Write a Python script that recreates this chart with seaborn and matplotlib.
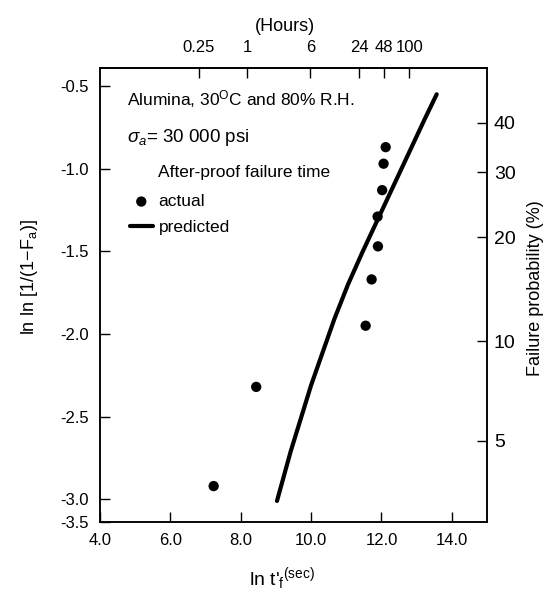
import numpy as np
import matplotlib
matplotlib.use("Agg")
import matplotlib.pyplot as plt
import seaborn as sns

# ---- data ----
actual_x = [7.23, 8.44, 11.55, 11.72, 11.90, 11.89, 12.02, 12.06, 12.12]
actual_y = [-2.92, -2.32, -1.95, -1.67, -1.47, -1.29, -1.13, -0.97, -0.87]
pred_x = [9.03, 9.42, 10.00, 10.66, 11.05, 11.47, 11.91, 12.35, 12.79, 13.23, 13.57]
pred_y = [-3.01, -2.71, -2.31, -1.91, -1.70, -1.50, -1.30, -1.10, -0.90, -0.70, -0.55]

x_ticks = [4.0, 6.0, 8.0, 10.0, 12.0, 14.0]
x_ticklabels = ["4.0", "6.0", "8.0", "10.0", "12.0", "14.0"]
y_ticks = [-0.5, -1.0, -1.5, -2.0, -2.5, -3.0]
y_ticklabels = ["-0.5", "-1.0", "-1.5", "-2.0", "-2.5", "-3.0", "-3.5"]
hour_ticks = [0.25, 1, 6, 24, 48, 100]
hour_ticklabels = ["0.25", "1", "6", "24", "48", "100"]
prob_ticks = [5, 10, 20, 30, 40]          # percent
prob_ticklabels = ["5", "10", "20", "30", "40"]

sns.set_theme(style="ticks")
FONT = ["Liberation Sans", "DejaVu Sans"]
plt.rcParams["font.family"] = FONT
plt.rcParams["mathtext.fontset"] = "custom"
plt.rcParams["mathtext.rm"] = "Liberation Sans"
plt.rcParams["mathtext.it"] = "Liberation Sans:italic"
plt.rcParams["mathtext.bf"] = "Liberation Sans:bold"
plt.rcParams["axes.linewidth"] = 1.1
plt.rcParams["axes.edgecolor"] = "black"
for k in ["text.color", "axes.labelcolor", "xtick.color", "ytick.color"]:
    plt.rcParams[k] = "black"

fig = plt.figure(figsize=(5.48, 6.02), dpi=100)
ax = fig.add_axes([0.1825, 0.1324, 0.7062, 0.7547])

xlim = (4.0, 15.0)
ylim = (-3.139, -0.391)

sns.scatterplot(x=actual_x, y=actual_y, ax=ax, color="black", s=55,
                edgecolor="none", label="actual", zorder=3)
sns.lineplot(x=pred_x, y=pred_y, ax=ax, color="black", lw=3.0,
             sort=False, label="predicted", zorder=2)

ax.set_xlim(*xlim)
ax.set_ylim(*ylim)
ax.set_xticks(x_ticks)
ax.set_xticklabels(x_ticklabels)
ax.set_yticks(y_ticks + [ylim[0]])
ax.set_yticklabels(y_ticklabels)
ax.tick_params(axis="both", direction="in", length=7, width=1.0,
               colors="black", labelsize=12)
ax.tick_params(axis="x", pad=8)
ax.tick_params(axis="y", pad=8)

ax.set_xlabel("ln t'$_{\\mathrm{f}}$$^{\\mathrm{(sec)}}$", fontsize=14)
ax.xaxis.set_label_coords(0.47, -0.095)
ax.set_ylabel("ln ln $\\left[1/(1\\!-\\!\\mathrm{F}_{\\mathrm{a}})\\right]$", fontsize=13)
ax.yaxis.set_label_coords(-0.155, 0.54)

# top axis: hours
def sec_to_hours(x):
    return np.exp(x) / 3600.0

def hours_to_sec(h):
    return np.log(np.clip(h, 1e-12, None) * 3600.0)

top = ax.secondary_xaxis("top", functions=(sec_to_hours, hours_to_sec))
top.set_xticks(hour_ticks)
top.set_xticklabels(hour_ticklabels)
top.tick_params(direction="in", length=7, width=1.0, labelsize=12, pad=9,
                colors="black")
top.set_xlabel("(Hours)", fontsize=13)
top.xaxis.set_label_coords(0.478, 1.082, transform=ax.transAxes)

# right axis: failure probability
ax2 = ax.twinx()
ax2.set_ylim(-3.558, -0.278)
p = np.array(prob_ticks) / 100.0
ax2.set_yticks(np.log(np.log(1.0 / (1.0 - p))))
ax2.set_yticklabels(prob_ticklabels)
ax2.tick_params(axis="y", direction="in", length=7, width=1.0,
                labelsize=14, pad=5, colors="black")
ax2.set_ylabel("Failure probability (%)", fontsize=13)
ax2.yaxis.set_label_coords(1.103, 0.516)
ax2.grid(False)
ax.grid(False)

# annotations
ax.text(0.070, 0.9186, "Alumina, 30$^{\\mathrm{O}}$C and 80% R.H.",
        transform=ax.transAxes, fontsize=12.5, va="baseline", ha="left")
ax.text(0.070, 0.8378, "$\\sigma_a$= 30 000 psi",
        transform=ax.transAxes, fontsize=13.5, va="baseline", ha="left")
ax.text(0.150, 0.7607, "After-proof failure time",
        transform=ax.transAxes, fontsize=12.5, va="baseline", ha="left")

leg = ax.legend(loc="upper left", bbox_to_anchor=(0.0775, 0.7227),
                frameon=False, fontsize=12.5, handlelength=1.3,
                handletextpad=0.35, borderpad=0.0, borderaxespad=0.0,
                labelspacing=0.6)

fig.savefig("out.png", dpi=100)
